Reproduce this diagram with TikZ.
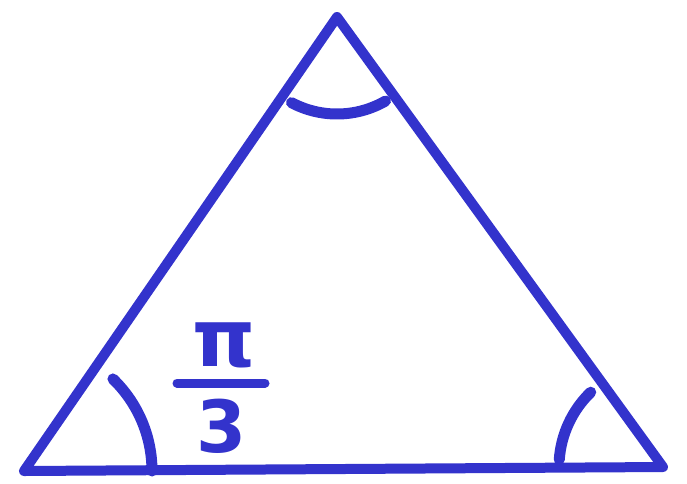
\documentclass[tikz,border=0pt]{standalone}
\usepackage{fontspec}
\newfontfamily\handfont{DejaVu Sans}
\usepackage{tikz}
\usetikzlibrary{positioning,calc}
\definecolor{penblue}{HTML}{3333CC}

\begin{document}
\begin{tikzpicture}[
    x=1pt, y=-1pt,
    side/.style={draw=penblue, line width=10pt, line join=round, line cap=round},
    anglemark/.style={draw=penblue, line width=11pt, line cap=round},
    lbl/.style={text=penblue, font=\handfont\bfseries\fontsize{72}{72}\selectfont, inner sep=0pt}
]
\useasboundingbox (0,0) rectangle (687,483);

\coordinate (L) at (24,471);
\coordinate (T) at (337,17);
\coordinate (R) at (663,467);

\draw[side] (L) -- (T) -- (R) -- cycle;

% angle marks
\draw[anglemark] ([shift={(0:128)}]L) arc[start angle=0, end angle=-46, radius=128];
\draw[anglemark] ([shift={(118:97)}]T) arc[start angle=118, end angle=60, radius=97];
\draw[anglemark] ([shift={(-134:104)}]R) arc[start angle=-134, end angle=-176, radius=104];

% label
\node[lbl, font=\handfont\bfseries\fontsize{80}{80}\selectfont] (pi) at (224,345) {π};
\node[lbl] (three) at (222,426) {3};
\coordinate (barL) at (177,383);
\coordinate (barR) at (265,383);
\draw[anglemark, line width=9pt] (barL) -- (barR);
\end{tikzpicture}
\end{document}
